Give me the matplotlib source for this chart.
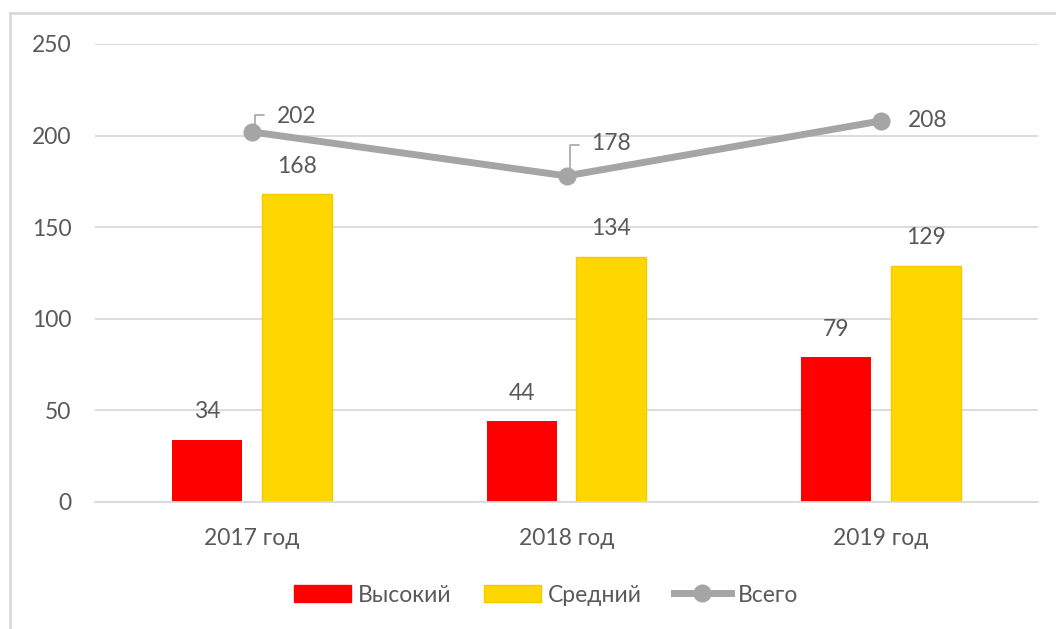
import numpy as np
import matplotlib.pyplot as plt
from matplotlib.lines import Line2D

plt.rcParams['font.family'] = ['Lato', 'DejaVu Sans']

# Данные
years = ['2017 год', '2018 год', '2019 год']
high = [34, 44, 79]
medium = [168, 134, 129]
total = [202, 178, 208]

TEXT = '#595959'
GRID = '#D9D9D9'
FS = 16.5

fig = plt.figure(figsize=(10.56, 6.29), dpi=100)
ax = fig.add_axes([95 / 1056, 1 - 502 / 629, (1038 - 95) / 1056, (502 - 44) / 629])

x = np.arange(len(years))
w = 0.223
off = 0.143

bars_h = ax.bar(x - off, high, w, color='#FF0000', label='Высокий', zorder=2)
bars_m = ax.bar(x + off, medium, w, color='#FFD700', edgecolor='#F5C800', linewidth=1,
                label='Средний', zorder=2)
ax.plot(x, total, color='#A5A5A5', lw=5, marker='o', ms=12, label='Всего', zorder=3,
        solid_capstyle='round')

# подписи столбцов
for b, v in zip(list(bars_h) + list(bars_m), high + medium):
    ax.annotate(str(v), (b.get_x() + b.get_width() / 2, v), xytext=(0, 20),
                textcoords='offset points', ha='center', va='center', fontsize=FS, color=TEXT)

# подписи линии с выносками
for i, v in enumerate(total):
    if i < 2:
        ax.annotate(str(v), (x[i], v), xytext=(32, 11 if i == 0 else 23),
                    textcoords='offset points', ha='center', va='center',
                    fontsize=FS, color=TEXT)
        ax.annotate('', (x[i] + 0.01, v + 3), xytext=(x[i] + 0.048, v + (9 if i == 0 else 17)),
                    arrowprops=dict(arrowstyle='-', color='#A5A5A5', lw=1.2,
                                    connectionstyle='angle,angleA=0,angleB=90,rad=0'))
    else:
        ax.annotate(str(v), (x[i], v), xytext=(34, 0), textcoords='offset points',
                    ha='center', va='center', fontsize=FS, color=TEXT)

ax.set_xlim(-0.5, 2.5)
ax.set_ylim(0, 250)
ax.set_yticks(range(0, 251, 50))
ax.set_xticks(x, years)
ax.grid(axis='y', color=GRID, lw=1.3, zorder=0)
for s in ['top', 'right', 'left']:
    ax.spines[s].set_visible(False)
ax.spines['bottom'].set_color(GRID)
ax.spines['bottom'].set_linewidth(1.3)
ax.tick_params(length=0, labelsize=FS, colors=TEXT)
ax.tick_params(axis='y', pad=17)
ax.tick_params(axis='x', pad=19)

handles = [plt.Rectangle((0, 0), 1, 1, color='#FF0000'),
           plt.Rectangle((0, 0), 1, 1, facecolor='#FFD700', edgecolor='#F5C800'),
           Line2D([], [], color='#A5A5A5', lw=5, marker='o', ms=12)]
fig.legend(handles, ['Высокий', 'Средний', 'Всего'], loc='center', ncol=3,
           bbox_to_anchor=(546 / 1056, 1 - 595 / 629), frameon=False, fontsize=FS,
           labelcolor=TEXT, handlelength=2.5, handletextpad=0.3, columnspacing=1.4)

# рамка диаграммы
fig.add_artist(Line2D([10 / 1056, 10 / 1056], [0, 1 - 13 / 629], color=GRID, lw=2,
                      transform=fig.transFigure))
fig.add_artist(Line2D([10 / 1056, 1], [1 - 13 / 629, 1 - 13 / 629], color=GRID, lw=2,
                      transform=fig.transFigure))

fig.savefig('out.png', dpi=100)
